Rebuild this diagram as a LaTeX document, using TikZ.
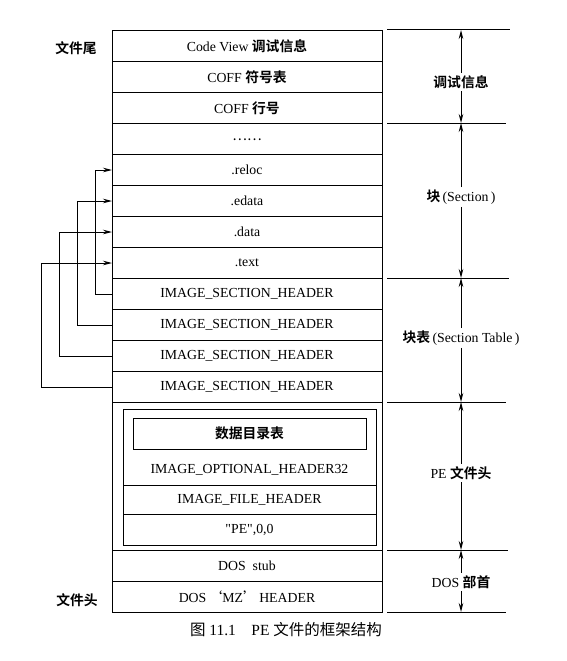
\documentclass[tikz,border=0pt]{standalone}
\usepackage{fontspec}
\setmainfont{Liberation Serif}[Ligatures=TeXOff]
\newfontfamily\cjk{Noto Sans CJK SC}[BoldFont={Noto Sans CJK SC Bold}]
\newcommand{\zh}[1]{{\cjk\bfseries #1}}
\usetikzlibrary{positioning,arrows.meta}

\begin{document}
\begin{tikzpicture}[x=1pt,y=-1pt,>={Stealth[length=9pt,width=4.5pt]},line width=1pt,node distance=31pt,font=\fontsize{13.8}{16}\selectfont,
    row/.style={draw,minimum width=270pt,minimum height=31pt,inner sep=0pt,outer sep=0pt},
    inner row/.style={draw,minimum width=253pt,inner sep=0pt,outer sep=0pt},
    side label/.style={inner sep=2pt}]

                \useasboundingbox (0,0) rectangle (566,661);

                % file rows, top to bottom
                \node[row] (1) at (247,46) {Code View \zh{调试信息}};
                \node[row] (2) [below of=1] {COFF \zh{符号表}};
                \node[row] (3) [below of=2] {COFF \zh{行号}};
                \node[row] (4) [below of=3] {\raisebox{-3pt}{\cjk ……}};
                \node[row] (5) [below of=4] {.reloc};
                \node[row] (6) [below of=5] {.edata};
                \node[row] (7) [below of=6] {.data};
                \node[row] (8) [below of=7] {.text};
                \node[row] (9) [below of=8] {IMAGE\_SECTION\_HEADER};
                \node[row] (10) [below of=9] {IMAGE\_SECTION\_HEADER};
                \node[row] (11) [below of=10] {IMAGE\_SECTION\_HEADER};
                \node[row] (12) [below of=11] {IMAGE\_SECTION\_HEADER};
                \node[row,minimum height=148pt] (13) [below=0pt of 12] {};
                \node[row] (14) [below=0pt of 13] {DOS\ \ stub};
                \node[row] (15) [below of=14] {DOS\,{\cjk ‘}MZ{\cjk ’}\,HEADER};

                % PE header inside
                \node[inner row,minimum height=76pt] (16) at (249.5,447) {};
                \node[draw,minimum width=233pt,minimum height=31pt,inner sep=0pt] (17) at (249.5,433.5) {\zh{数据目录表}};
                \node (18) at (249.5,470) {IMAGE\_OPTIONAL\_HEADER32};
                \node[inner row,minimum height=29pt] (19) [below=0pt of 16] {IMAGE\_FILE\_HEADER};
                \node[inner row,minimum height=31pt] (20) [below=0pt of 19] {"PE",0,0};

                % left labels
                \node[font=\cjk\bfseries\fontsize{13.8}{16}\selectfont] (21) at (76,48) {文件尾};
                \node[font=\cjk\bfseries\fontsize{13.8}{16}\selectfont] (22) at (77,600) {文件头};

                % section headers point to sections
                \draw[->] (9.west) -- ++(-17,0) |- (5.west);
                \draw[->] (10.west) -- ++(-35,0) |- (6.west);
                \draw[->] (11.west) -- ++(-53,0) |- (7.west);
                \draw[->] (12.west) -- ++(-71,0) |- (8.west);

                % right side ranges
                \coordinate (c0) at (461,30);
                \coordinate (c1) at (461,123);
                \coordinate (c2) at (461,278);
                \coordinate (c3) at (461,402);
                \coordinate (c4) at (461,550);
                \coordinate (c5) at (461,612);
                \draw ([xshift=-74pt]c0) -- ([xshift=49pt]c0);
                \draw ([xshift=-74pt]c1) -- ([xshift=45pt]c1);
                \draw ([xshift=-74pt]c2) -- ([xshift=48pt]c2);
                \draw ([xshift=-74pt]c3) -- ([xshift=45pt]c3);
                \draw ([xshift=-74pt]c4) -- ([xshift=47pt]c4);
                \draw ([xshift=-74pt]c5) -- ([xshift=45pt]c5);

                \node[side label] (23) at (461,82) {\zh{调试信息}};
                \node[side label] (24) at (461,197) {\zh{块}\,(Section\,)};
                \node[side label] (25) at (461,338) {\zh{块表}\,(Section Table\,)};
                \node[side label] (26) at (461,473) {PE \zh{文件头}};
                \node[side label] (27) at (461,582) {DOS \zh{部首}};

                \draw[->] (23) -- (c0);
                \draw[->] (23) -- (c1);
                \draw[->] (24) -- (c1);
                \draw[->] (24) -- (c2);
                \draw[->] (25) -- (c2);
                \draw[->] (25) -- (c3);
                \draw[->] (26) -- (c3);
                \draw[->] (26) -- (c4);
                \draw[->] (27) -- (c4);
                \draw[->] (27) -- (c5);

                % caption
                \node[font=\fontsize{15.5}{18}\selectfont] (28) at (286,630) {{\cjk 图} 11.1\quad PE {\cjk 文件的框架结构}};
\end{tikzpicture}
\end{document}
